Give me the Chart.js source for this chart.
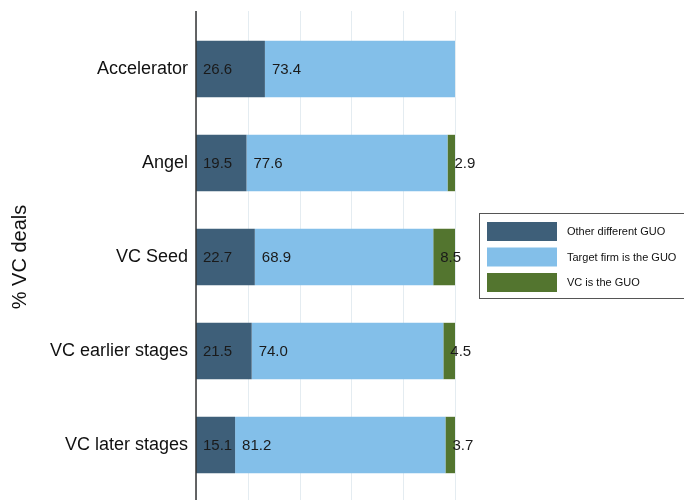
<!DOCTYPE html>
<html>
<head>
<meta charset="utf-8">
<script src="https://cdn.jsdelivr.net/npm/chart.js@4/dist/chart.umd.min.js"></script>
<style>
    html, body { margin: 0; padding: 0; background: #fff; overflow: hidden; }
    #wrap { width: 684px; height: 500px; }
</style>
</head>
<body>
<div id="wrap"><canvas id="guoChart" width="684" height="500"></canvas></div>
<script>
// data
const categories = ['Accelerator', 'Angel', 'VC Seed', 'VC earlier stages', 'VC later stages'];
const otherGuo = [26.6, 19.5, 22.7, 21.5, 15.1];
const targetGuo = [73.4, 77.6, 68.9, 74.0, 81.2];
const vcGuo = [null, 2.9, 8.5, 4.5, 3.7];
const seriesNames = ['Other different GUO', 'Target firm is the GUO', 'VC is the GUO'];
const seriesColors = ['#3e5f79', '#83bfe9', '#53752f'];
const xTicks = [0, 20, 40, 60, 80, 100];

const FONT = 'Liberation Sans, Arial, sans-serif';

// vertical grid and axis line, a bit taller than the bar area
const gridPlugin = {
    id: 'gridLines',
    beforeDatasetsDraw(chart) {
        const { ctx, chartArea, scales } = chart;
        const top = chartArea.top - 11;
        const bottom = chart.height;
        ctx.save();
        ctx.strokeStyle = '#e4ecf1';
        ctx.lineWidth = 1;
        xTicks.forEach(t => {
            const x = Math.round(scales.x.getPixelForValue(t)) + 0.5;
            ctx.beginPath();
            ctx.moveTo(x, top);
            ctx.lineTo(x, bottom);
            ctx.stroke();
        });
        ctx.restore();
    },
    afterDatasetsDraw(chart) {
        const { ctx, chartArea, scales } = chart;
        const x = scales.x.getPixelForValue(0);
        ctx.save();
        ctx.strokeStyle = '#333';
        ctx.lineWidth = 1.5;
        ctx.beginPath();
        ctx.moveTo(x, chartArea.top - 11);
        ctx.lineTo(x, chart.height);
        ctx.stroke();
        ctx.restore();
    }
};

// value labels at the start of every segment
const labelPlugin = {
    id: 'segLabels',
    afterDatasetsDraw(chart) {
        const { ctx } = chart;
        ctx.save();
        ctx.font = '15px ' + FONT;
        ctx.fillStyle = '#1a1a1a';
        ctx.textAlign = 'left';
        ctx.textBaseline = 'middle';
        chart.data.datasets.forEach((ds, i) => {
            const meta = chart.getDatasetMeta(i);
            meta.data.forEach((bar, j) => {
                const v = ds.data[j];
                if (v == null) return;
                const left = Math.min(bar.base, bar.x);
                ctx.fillText(v.toFixed(1), left + 7, bar.y + 1);
            });
        });
        ctx.restore();
    }
};

// boxed legend on the right
const legendPlugin = {
    id: 'boxLegend',
    afterDraw(chart) {
        const { ctx } = chart;
        const bx = 479.5, by = 213.5, bw = 215, bh = 85;
        ctx.save();
        ctx.strokeStyle = '#555';
        ctx.lineWidth = 1;
        ctx.strokeRect(bx, by, bw, bh);
        ctx.font = '11px ' + FONT;
        ctx.textBaseline = 'middle';
        chart.data.datasets.forEach((ds, i) => {
            const y = 222 + i * 25.5;
            ctx.fillStyle = ds.backgroundColor;
            ctx.fillRect(487, y, 70, 19);
            ctx.fillStyle = '#111';
            ctx.fillText(ds.label, 567, y + 10);
        });
        ctx.restore();
    }
};

const datasets = [otherGuo, targetGuo, vcGuo].map((vals, i) => ({
    label: seriesNames[i],
    data: vals,
    backgroundColor: seriesColors[i],
    borderWidth: 0,
    barPercentage: 0.6,
    categoryPercentage: 1.0
}));

new Chart(document.getElementById('guoChart'), {
    type: 'bar',
    data: { labels: categories, datasets: datasets },
    options: {
        indexAxis: 'y',
        responsive: false,
        animation: false,
        layout: { padding: { top: 22, bottom: 8, right: 229, left: 0 } },
        plugins: {
            legend: { display: false },
            tooltip: { enabled: false }
        },
        scales: {
            x: {
                stacked: true,
                min: 0,
                max: 100,
                display: false,
                ticks: { stepSize: 20 }
            },
            y: {
                stacked: true,
                grid: { display: false, drawTicks: false },
                border: { display: false },
                ticks: {
                    color: '#111',
                    padding: 8,
                    font: { family: FONT, size: 18 }
                },
                title: {
                    display: true,
                    text: '% VC deals',
                    color: '#111',
                    padding: { top: 8, bottom: 0 },
                    font: { family: FONT, size: 20 }
                },
                afterFit(scale) {
                    scale.width = 196;
                    scale.paddingTop = 0;
                    scale.paddingBottom = 0;
                }
            }
        }
    },
    plugins: [gridPlugin, labelPlugin, legendPlugin]
});
</script>
</body>
</html>
